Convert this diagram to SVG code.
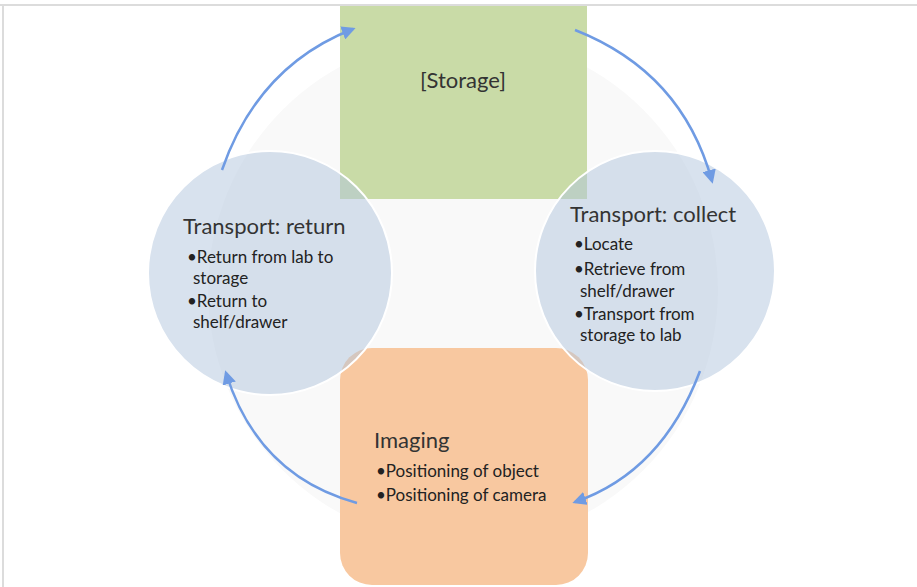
<svg xmlns="http://www.w3.org/2000/svg" width="917" height="587" viewBox="0 0 917 587">
<defs>
<style>
.frame{stroke:#dcdcdc;stroke-width:2;fill:none}
.circ{fill:#b1c5dd;fill-opacity:0.5;stroke:#ffffff;stroke-width:2}
.head{font-family:Lato,"Open Sans",sans-serif;font-size:22px;fill:#333333}
.bul{font-family:Lato,"Open Sans",sans-serif;font-size:17px;fill:#222222}
.arr{fill:none;stroke:#6f9be3;stroke-width:2.5;marker-end:url(#ah)}
</style>
<marker id="ah" viewBox="0 0 10 10" refX="8" refY="5" markerWidth="5.5" markerHeight="5.5" orient="auto" markerUnits="strokeWidth">
<path d="M0,0 L10,5 L0,10 z" fill="#6f9be3"/>
</marker>
</defs>
<rect width="917" height="587" fill="#ffffff"/>
<path class="frame" d="M0,5 H917 M3,5 V587"/>
<circle cx="463" cy="290" r="255" fill="#f9f9f9"/>
<g id="storage">
<rect x="340" y="6" width="247" height="193" fill="#c9dba7"/>
<text class="head" x="463" y="88" text-anchor="middle" font-size="23">[Storage]</text>
</g>
<g id="imaging">
<rect x="340" y="348" width="248" height="237" rx="32" fill="#f8c8a0"/>
<text class="head" x="374" y="448">Imaging</text>
<text class="bul" x="376" y="477">•Positioning of object</text>
<text class="bul" x="376" y="501">•Positioning of camera</text>
</g>
<g id="transport-return">
<circle class="circ" cx="270" cy="273" r="122"/>
<text class="head" x="183" y="234">Transport: return</text>
<text class="bul" x="187" y="263">•Return from lab to</text>
<text class="bul" x="193" y="284">storage</text>
<text class="bul" x="187" y="307">•Return to</text>
<text class="bul" x="193" y="328">shelf/drawer</text>
</g>
<g id="transport-collect">
<circle class="circ" cx="655" cy="271" r="120"/>
<text class="head" x="570" y="222">Transport: collect</text>
<text class="bul" x="574" y="250">•Locate</text>
<text class="bul" x="574" y="275">•Retrieve from</text>
<text class="bul" x="580" y="297">shelf/drawer</text>
<text class="bul" x="574" y="320">•Transport from</text>
<text class="bul" x="580" y="341">storage to lab</text>
</g>
<g id="connectors">
<path class="arr" d="M222,170 Q258,66 353,29"/>
<path class="arr" d="M575,30 Q682,72 712,181"/>
<path class="arr" d="M700,371 Q662,472 575,502"/>
<path class="arr" d="M357,503 Q258,476 226,373"/>
</g>
</svg>
